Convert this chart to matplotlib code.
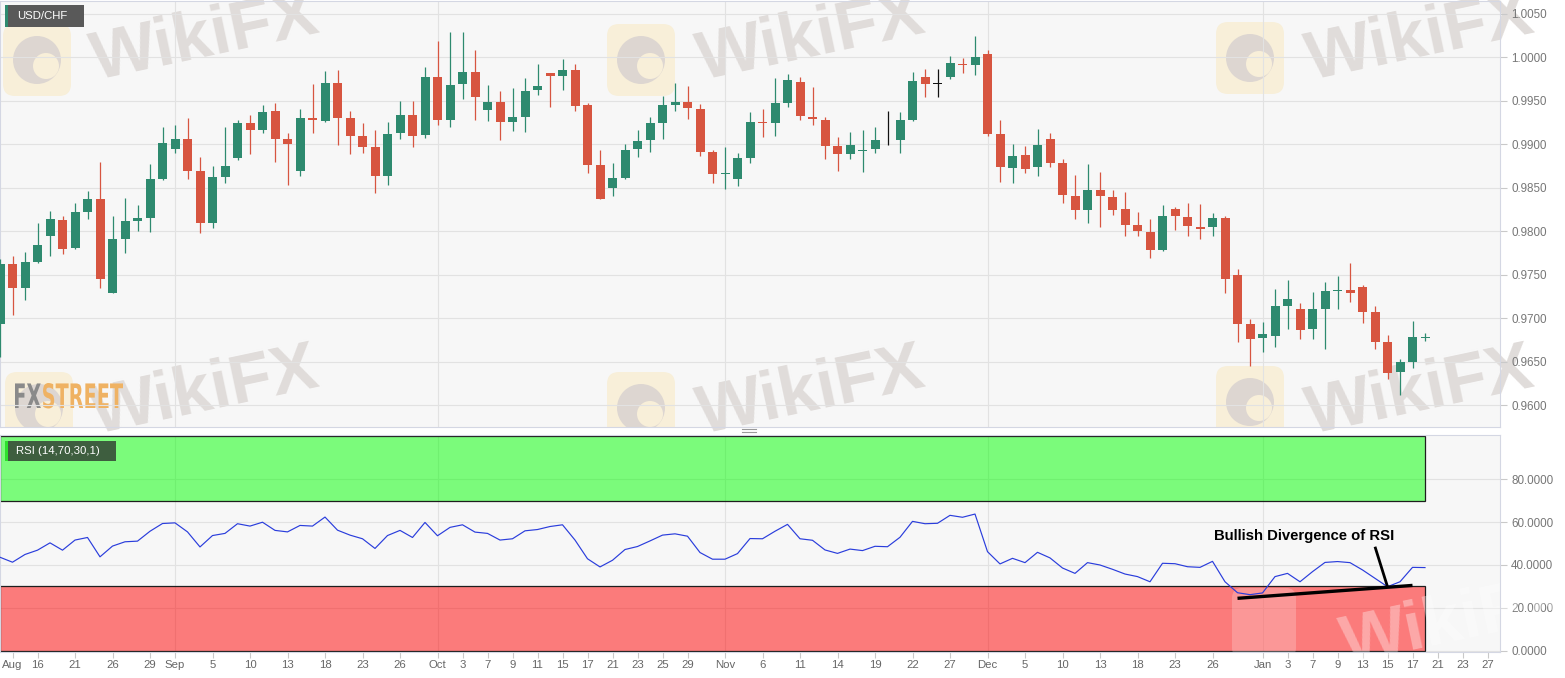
import numpy as np
import pandas as pd
import matplotlib
matplotlib.use("Agg")
import matplotlib.pyplot as plt
from matplotlib.patches import Rectangle, FancyBboxPatch, PathPatch, Circle
from matplotlib.textpath import TextPath
from matplotlib.font_manager import FontProperties
from matplotlib.transforms import Affine2D, IdentityTransform
from matplotlib.lines import Line2D

plt.rcParams["font.family"] = ["Liberation Sans", "DejaVu Sans"]

# ---- data (USD/CHF daily) ----
opens = [0.9693, 0.9762, 0.9735, 0.9765, 0.9794, 0.9813, 0.9781, 0.9822, 0.9837, 0.9729,
         0.9791, 0.9812, 0.9815, 0.9860, 0.9895, 0.9906, 0.9869, 0.9809, 0.9862, 0.9884,
         0.9925, 0.9916, 0.9938, 0.9906, 0.9869, 0.9930, 0.9927, 0.9971, 0.9930, 0.9910,
         0.9897, 0.9863, 0.9913, 0.9934, 0.9911, 0.9977, 0.9928, 0.9969, 0.9983, 0.9940,
         0.9949, 0.9926, 0.9932, 0.9963, 0.9982, 0.9979, 0.9986, 0.9945, 0.9876, 0.9850,
         0.9861, 0.9895, 0.9905, 0.9924, 0.9945, 0.9949, 0.9941, 0.9891, 0.9866, 0.9860,
         0.9884, 0.9926, 0.9925, 0.9948, 0.9972, 0.9932, 0.9928, 0.9898, 0.9889, 0.9892,
         0.9895, 0.9904, 0.9905, 0.9928, 0.9977, 0.9970, 0.9978, 0.9993, 0.9991, 1.0004,
         0.9912, 0.9873, 0.9888, 0.9874, 0.9906, 0.9878, 0.9841, 0.9824, 0.9848, 0.9839,
         0.9826, 0.9807, 0.9799, 0.9778, 0.9826, 0.9816, 0.9805, 0.9805, 0.9815, 0.9750,
         0.9693, 0.9677, 0.9679, 0.9714, 0.9710, 0.9687, 0.9711, 0.9731, 0.9732, 0.9736,
         0.9707, 0.9673, 0.9638, 0.9649, 0.9677]

highs = [0.9768, 0.9772, 0.9776, 0.9810, 0.9823, 0.9818, 0.9833, 0.9846, 0.9880, 0.9817,
         0.9838, 0.9830, 0.9877, 0.9920, 0.9922, 0.9930, 0.9886, 0.9875, 0.9920, 0.9928,
         0.9934, 0.9945, 0.9947, 0.9913, 0.9941, 0.9970, 0.9984, 0.9985, 0.9938, 0.9924,
         0.9917, 0.9926, 0.9950, 0.9950, 0.9989, 1.0019, 1.0029, 1.0029, 1.0009, 0.9968,
         0.9961, 0.9965, 0.9976, 0.9992, 0.9982, 0.9998, 0.9992, 0.9948, 0.9894, 0.9878,
         0.9900, 0.9917, 0.9931, 0.9956, 0.9971, 0.9967, 0.9946, 0.9894, 0.9897, 0.9890,
         0.9937, 0.9941, 0.9976, 0.9981, 0.9978, 0.9966, 0.9931, 0.9909, 0.9914, 0.9917,
         0.9920, 0.9938, 0.9937, 0.9983, 0.9987, 0.9987, 1.0002, 0.9999, 1.0025, 1.0009,
         0.9928, 0.9900, 0.9898, 0.9918, 0.9913, 0.9883, 0.9865, 0.9877, 0.9868, 0.9847,
         0.9845, 0.9822, 0.9814, 0.9830, 0.9828, 0.9832, 0.9831, 0.9821, 0.9818, 0.9757,
         0.9699, 0.9695, 0.9734, 0.9744, 0.9717, 0.9730, 0.9741, 0.9749, 0.9763, 0.9738,
         0.9714, 0.9681, 0.9653, 0.9697, 0.9683]

lows = [0.9655, 0.9704, 0.9721, 0.9763, 0.9772, 0.9774, 0.9779, 0.9814, 0.9735, 0.9729,
        0.9775, 0.9800, 0.9799, 0.9859, 0.9890, 0.9860, 0.9798, 0.9804, 0.9856, 0.9882,
        0.9889, 0.9913, 0.9880, 0.9853, 0.9864, 0.9913, 0.9926, 0.9899, 0.9889, 0.9890,
        0.9844, 0.9853, 0.9906, 0.9897, 0.9907, 0.9922, 0.9920, 0.9952, 0.9928, 0.9927,
        0.9905, 0.9915, 0.9914, 0.9957, 0.9943, 0.9962, 0.9938, 0.9867, 0.9837, 0.9841,
        0.9860, 0.9885, 0.9891, 0.9906, 0.9938, 0.9929, 0.9887, 0.9855, 0.9849, 0.9852,
        0.9879, 0.9909, 0.9910, 0.9943, 0.9928, 0.9922, 0.9883, 0.9869, 0.9883, 0.9868,
        0.9890, 0.9899, 0.9890, 0.9927, 0.9954, 0.9954, 0.9975, 0.9982, 0.9980, 0.9910,
        0.9857, 0.9855, 0.9867, 0.9864, 0.9874, 0.9833, 0.9814, 0.9809, 0.9805, 0.9819,
        0.9795, 0.9795, 0.9769, 0.9777, 0.9801, 0.9795, 0.9791, 0.9795, 0.9729, 0.9673,
        0.9645, 0.9661, 0.9667, 0.9688, 0.9676, 0.9676, 0.9665, 0.9711, 0.9719, 0.9694,
        0.9665, 0.9630, 0.9612, 0.9643, 0.9674]

closes = [0.9762, 0.9735, 0.9765, 0.9784, 0.9814, 0.9780, 0.9822, 0.9837, 0.9745, 0.9791,
          0.9812, 0.9815, 0.9860, 0.9901, 0.9906, 0.9869, 0.9809, 0.9862, 0.9875, 0.9925,
          0.9916, 0.9937, 0.9906, 0.9900, 0.9930, 0.9928, 0.9971, 0.9930, 0.9910, 0.9897,
          0.9863, 0.9912, 0.9934, 0.9910, 0.9977, 0.9928, 0.9968, 0.9983, 0.9954, 0.9949,
          0.9926, 0.9932, 0.9961, 0.9967, 0.9979, 0.9986, 0.9944, 0.9876, 0.9837, 0.9861,
          0.9894, 0.9904, 0.9924, 0.9945, 0.9949, 0.9942, 0.9891, 0.9866, 0.9867, 0.9884,
          0.9926, 0.9925, 0.9948, 0.9974, 0.9933, 0.9929, 0.9898, 0.9889, 0.9899, 0.9894,
          0.9905, 0.9904, 0.9928, 0.9973, 0.9969, 0.9970, 0.9994, 0.9991, 1.0000, 0.9912,
          0.9874, 0.9887, 0.9872, 0.9899, 0.9878, 0.9842, 0.9824, 0.9848, 0.9841, 0.9825,
          0.9807, 0.9800, 0.9778, 0.9817, 0.9817, 0.9806, 0.9803, 0.9815, 0.9745, 0.9693,
          0.9676, 0.9682, 0.9714, 0.9722, 0.9686, 0.9711, 0.9731, 0.9732, 0.9729, 0.9707,
          0.9673, 0.9637, 0.9649, 0.9678, 0.9678]

rsi = [43.6, 41.3, 44.9, 46.9, 50.3, 46.9, 51.6, 52.8, 43.8, 48.8,
       50.8, 51.1, 55.7, 59.3, 59.6, 55.4, 48.4, 53.7, 54.7, 59.2,
       58.1, 59.9, 56.1, 55.4, 58.4, 58.1, 62.3, 56.2, 53.9, 52.2,
       47.7, 53.7, 56.1, 52.8, 59.8, 53.6, 57.5, 58.7, 55.3, 54.7,
       51.6, 52.2, 55.9, 56.5, 57.9, 58.7, 51.6, 42.9, 39.1, 42.2,
       47.2, 48.6, 51.2, 53.9, 54.5, 53.4, 45.8, 42.7, 42.7, 45.3,
       52.3, 52.2, 55.7, 58.9, 52.2, 51.5, 47.0, 45.4, 47.4, 46.7,
       48.7, 48.5, 52.9, 60.3, 59.2, 59.4, 63.1, 62.2, 63.7, 46.2,
       40.5, 43.1, 41.1, 45.9, 43.3, 38.6, 36.1, 41.1, 40.0, 38.0,
       35.8, 34.6, 32.2, 40.8, 40.6, 39.2, 38.9, 41.7, 32.2, 27.1,
       26.2, 27.0, 34.6, 36.1, 32.2, 36.9, 41.2, 41.6, 41.1, 37.7,
       33.8, 29.9, 32.2, 38.9, 38.8]

rsi_upper = 70
rsi_lower = 30

tick_dates = ["2019-08-14", "2019-08-16", "2019-08-21", "2019-08-26", "2019-08-29",
              "2019-09-02", "2019-09-05", "2019-09-10", "2019-09-13", "2019-09-18",
              "2019-09-23", "2019-09-26", "2019-10-01", "2019-10-03", "2019-10-07",
              "2019-10-09", "2019-10-11", "2019-10-15", "2019-10-17", "2019-10-21",
              "2019-10-23", "2019-10-25", "2019-10-29", "2019-11-01", "2019-11-06",
              "2019-11-11", "2019-11-14", "2019-11-19", "2019-11-22", "2019-11-27",
              "2019-12-02", "2019-12-05", "2019-12-10", "2019-12-13", "2019-12-18",
              "2019-12-23", "2019-12-26", "2020-01-01", "2020-01-03", "2020-01-07",
              "2020-01-09", "2020-01-13", "2020-01-15", "2020-01-17", "2020-01-21",
              "2020-01-23", "2020-01-27"]
tick_labels = ["Aug", "16", "21", "26", "29", "Sep", "5", "10", "13", "18", "23", "26",
               "Oct", "3", "7", "9", "11", "15", "17", "21", "23", "25", "29",
               "Nov", "6", "11", "14", "19", "22", "27",
               "Dec", "5", "10", "13", "18", "23", "26",
               "Jan", "3", "7", "9", "13", "15", "17", "21", "23", "27"]

div_dates = ["2019-12-30", "2020-01-17"]
div_vals = [24.5, 30.5]
pointer_dates = ["2020-01-14", "2020-01-15"]
pointer_vals = [48.5, 29.9]
note = "Bullish Divergence of RSI"

# ---- positions ----
days = pd.bdate_range("2019-08-13", "2020-01-31")
o = np.array(opens); h = np.array(highs); l = np.array(lows); c = np.array(closes)
idx = np.arange(len(o))
tick_pos = days.get_indexer(pd.to_datetime(tick_dates))
month_pos = [p for p, t in zip(tick_pos, tick_labels) if t.isalpha()][1:]

GREEN = "#2e8a6f"
RED = "#d75540"
BG = "#f7f7f7"
GRID = "#e2e2e2"

W, H = 1565, 678
fig = plt.figure(figsize=(W / 100, H / 100), dpi=100, facecolor="white")

ax = fig.add_axes([0, 1 - 427 / H, 1500 / W, 426 / H], facecolor=BG)
ax2 = fig.add_axes([0, 1 - 652 / H, 1500 / W, 217 / H], facecolor=BG)

# ---- watermarks (top panel) ----
ident = IdentityTransform()
for cx in [205, 811, 1420]:
    for cy in [38, 392]:
        ax.text(cx, H - cy, "WikiFX", transform=ident, fontsize=50, fontweight="bold",
                color="#e0dcda", rotation=12, ha="center", va="center", zorder=0.2)
for lx, ly in [(37, 60), (641, 60), (1250, 58), (39, 408), (641, 408), (1250, 402)]:
    ax.add_patch(FancyBboxPatch((lx - 30, H - ly - 32), 60, 64,
                                boxstyle="round,pad=4,rounding_size=12",
                                transform=ident, fc="#f8efd9", ec="none", zorder=0.2))
    ax.add_patch(Circle((lx, H - ly), 24, transform=ident, fc="#ddd6d1", ec="none", zorder=0.25))
    ax.add_patch(Circle((lx + 9, H - ly - 6), 13, transform=ident, fc="#f8efd9", ec="none", zorder=0.26))

# FXSTREET logo
fp = FontProperties(family="DejaVu Sans", weight="bold")
p1 = TextPath((0, 0), "FX", size=10, prop=fp)
p2 = TextPath((p1.get_extents().x1 + 0.4, 0), "STREET", size=10, prop=fp)
x0 = p1.get_extents().x0
x1 = p2.get_extents().x1
y1 = max(p1.get_extents().y1, p2.get_extents().y1)
tr = Affine2D().translate(-x0, 0).scale(108 / (x1 - x0), 25 / y1).translate(15, H - 408)
ax.add_patch(PathPatch(tr.transform_path(p1), transform=ident, fc="#8a8a8a", ec="none", zorder=0.3))
ax.add_patch(PathPatch(tr.transform_path(p2), transform=ident, fc="#efb263", ec="none", zorder=0.3))

# ---- candles ----
up = c > o
down = c < o
cols = np.where(up, GREEN, np.where(down, RED, "#111111"))
ax.vlines(idx, l, h, colors=cols, lw=0.9, zorder=3)
bottom = np.minimum(o, c)
height = np.maximum(np.abs(c - o), 0.00008)
bottom = np.where(np.abs(c - o) < 0.00008, np.minimum(o, c) - 0.00004, bottom)
ax.bar(idx, height, bottom=bottom, width=0.72, color=cols, lw=0, zorder=4)

ax.set_xlim(0, 120)
ax.set_ylim(0.95747, 1.006496)
ax.set_yticks(np.arange(0.96, 1.0051, 0.005))
ax.yaxis.set_major_formatter(plt.FuncFormatter(lambda v, p: f"{v:.4f}"))
ax.yaxis.tick_right()
ax.tick_params(axis="y", length=5, color="#c9c9c9", labelcolor="#777777", labelsize=8.4, pad=3)
ax.tick_params(axis="x", length=0, labelbottom=False)
ax.set_xticks(tick_pos)
ax.grid(axis="y", color=GRID, lw=0.8)
ax.set_axisbelow(True)
for p in month_pos:
    ax.axvline(p, color=GRID, lw=0.8, zorder=0.5)
for s in ax.spines.values():
    s.set_color("#d4d7e3")
    s.set_linewidth(0.8)

# ---- RSI panel ----
ax2.add_patch(Rectangle((0, rsi_upper), idx[-1], 100 - rsi_upper, fc=(0, 1, 0, 0.5),
                        ec="#1e1e1e", lw=0.9, zorder=2))
ax2.add_patch(Rectangle((0, 0), idx[-1], rsi_lower, fc=(1, 0, 0, 0.5),
                        ec="#1e1e1e", lw=0.9, zorder=2))
ax2.plot(idx, rsi, color="#2a3ddc", lw=0.85, zorder=3)

div_x = days.get_indexer(pd.to_datetime(div_dates))
ptr_x = days.get_indexer(pd.to_datetime(pointer_dates))
ax2.plot(div_x, div_vals, color="black", lw=2.4, solid_capstyle="butt", zorder=5)
ax2.plot(ptr_x, pointer_vals, color="black", lw=2.0, solid_capstyle="butt", zorder=5)
ax2.text(days.get_loc(pd.Timestamp("2020-01-06")) + 0.35, 53.5, note, fontsize=10.7,
         fontweight="bold", color="black", ha="center", va="center", zorder=6)

# watermark over the oversold box
ax2.add_patch(FancyBboxPatch((1235, H - 655), 58, 64, boxstyle="round,pad=3,rounding_size=10",
                             transform=ident, fc=(1, 1, 1, 0.22), ec="none", zorder=2.5))
ax2.text(1455, H - 622, "WikiFX", transform=ident, fontsize=50, fontweight="bold",
         color=(1, 1, 1, 0.35), rotation=12, ha="center", va="center", zorder=2.5)

ax2.set_xlim(0, 120)
ax2.set_ylim(-0.47, 100.47)
ax2.set_yticks([0, 20, 40, 60, 80])
ax2.yaxis.set_major_formatter(plt.FuncFormatter(lambda v, p: f"{v:.4f}"))
ax2.yaxis.tick_right()
ax2.tick_params(axis="y", length=5, color="#c9c9c9", labelcolor="#777777", labelsize=8.4, pad=3)
ax2.set_xticks(tick_pos)
ax2.set_xticklabels(tick_labels)
ax2.tick_params(axis="x", length=4, color="#c9c9c9", labelcolor="#666666", labelsize=8.2, pad=2)
ax2.grid(axis="y", color=GRID, lw=0.8)
ax2.set_axisbelow(True)
for p in month_pos:
    ax2.axvline(p, color=GRID, lw=0.8, zorder=0.5)
for s in ax2.spines.values():
    s.set_color("#d4d7e3")
    s.set_linewidth(0.8)

# ---- labels ----
fig.add_artist(Rectangle((5, H - 27), 79, 22, transform=ident, fc="#595959", ec="none"))
fig.add_artist(Rectangle((5, H - 27), 2.5, 22, transform=ident, fc="#2e8a6f", ec="none"))
fig.text(17 / W, 1 - 16 / H, "USD/CHF", color="white", fontsize=8.2, va="center", ha="left")

fig.add_artist(Rectangle((5, H - 461), 111, 20, transform=ident, fc="#3e5e3f", ec="none"))
fig.add_artist(Rectangle((5, H - 461), 2.5, 20, transform=ident, fc="#2ee02e", ec="none"))
fig.text(16 / W, 1 - 451 / H, "RSI (14,70,30,1)", color="white", fontsize=8.2, va="center", ha="left")

# pane divider handle
for yy in [429, 432]:
    fig.add_artist(Line2D([742, 756], [H - yy, H - yy], transform=ident, color="#9a9a9a", lw=0.8))

fig.savefig("out.png", dpi=100, facecolor="white")
